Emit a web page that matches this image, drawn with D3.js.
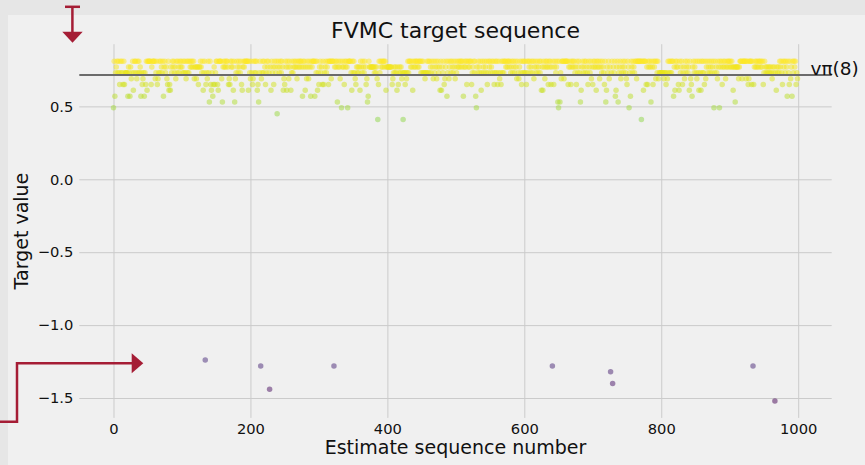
<!DOCTYPE html>
<html>
<head>
<meta charset="utf-8">
<script src="https://cdn.jsdelivr.net/npm/d3@7"></script>
<style>
  body { margin: 0; background: #e6e6e6; }
  svg { display: block; font-family: "DejaVu Sans", sans-serif; }
</style>
</head>
<body>
<svg id="chart" width="865" height="465"></svg>
<script>
// ---- data ----
const chartTitle = "FVMC target sequence";
const xLabel = "Estimate sequence number";
const yLabel = "Target value";
const xTicks = [0, 200, 400, 600, 800, 1000];
const yTicks = [-1.5, -1.0, -0.5, 0.0, 0.5];
const vPiValue = 0.715;
const vPiLabel = "vπ(8)";

// FVMC target for each estimate, in sequence order (index 0..999)
const targets = [
  .49,.81,.57,.73,.77,.81,.73,.81,.73,.65, .81,.73,.81,.73,.65,.81,.65,.73,.73,.73,
  .73,.57,.77,.73,.57,.77,.69,.73,.81,.61, .73,.81,.81,.73,.69,.81,.73,.81,.73,.77,
  .57,.73,.65,.69,.73,.57,.73,.65,.81,.61, .81,.81,.81,.81,.81,.65,.77,.81,.81,.81,
  .81,.69,.73,.81,.65,.69,.73,.81,.73,.81, .77,.73,.81,.57,.77,.81,.73,.77,.69,.65,
  .81,.61,.65,.61,.77,.73,.81,.77,.81,.73, .77,.69,.81,.73,.81,.77,.73,.81,.77,.81,
  .77,.73,.81,.73,.81,.73,.69,.81,.73,.81, .73,.81,.77,.81,.77,.81,.77,.81,.69,.77,
  .77,.69,.77,.77,.65,.77,.77,.81,.77,.73, .81,.61,.73,.81,-1.24,.65,.73,.69,.81,.73,
  .53,.81,.65,.61,.73,.57,.65,.77,.65,.73, .81,.81,.65,.61,.81,.81,.81,.81,.69,.53,
  .77,.81,.77,.81,.77,.81,.81,.77,.65,.69, .65,.81,.77,.81,.77,.61,.81,.53,.69,.73,
  .81,.77,.73,.81,.77,.73,.81,.65,.61,.77, .81,.77,.81,.81,.81,.81,.81,.61,.81,.73,
  .69,.81,.73,.65,.69,.81,.73,.81,.73,.81, .61,.65,.53,.73,.81,-1.28,.69,.73,.81,.73,
  .81,.77,.65,.73,.81,.77,.81,.73,-1.44,.77, .61,.81,.73,.77,.65,.81,.77,.73,.81,.45,
  .77,.81,.73,.77,.81,.73,.81,.77,.61,.69, .65,.81,.77,.61,.81,.77,.69,.81,.77,.61,
  .73,.81,.73,.77,.81,.77,.81,.77,.69,.81, .77,.81,.77,.81,.81,.77,.57,.81,.77,.81,
  .61,.77,.69,.81,.77,.69,.81,.77,.57,.81, .77,.81,.81,.81,.57,.81,.73,.81,.61,.73,
  .65,.77,.81,.73,.77,.65,.81,.65,.73,.77, .81,.73,.77,.81,.65,.81,.81,.81,.69,.81,
  .81,.81,-1.28,.77,.81,.77,.81,.53,.77,.81, .77,.69,.81,.49,.77,.81,.77,.65,.81,.77,
  .81,.77,.49,.81,.81,.81,.81,.73,.61,.81, .73,.81,.73,.69,.65,.77,.73,.77,.73,.77,
  .61,.81,.77,.73,.81,.77,.73,.81,.77,.65, .69,.53,.57,.81,.77,.77,.77,.77,.77,.77,
  .77,.73,.77,.73,.77,.69,.41,.65,.81,.73, .81,.77,.81,.77,.81,.81,.77,.81,.61,.77,
  .77,.77,.77,.77,.77,.77,.77,.65,.69,.73, .77,.73,.77,.73,.61,.77,.65,.73,.77,.73,
  .77,.69,.73,.41,.73,.73,.65,.73,.69,.73, .81,.73,.81,.81,.77,.81,.77,.61,.81,.77,
  .81,.77,.81,.81,.77,.81,.77,.81,.81,.73, .81,.73,.81,.73,.73,.69,.73,.73,.81,.73,
  .81,.73,.81,.77,.73,.81,.77,.69,.81,.73, .77,.81,.69,.77,.81,.73,.77,.61,.81,.61,
  .77,.73,.81,.65,.69,.77,.81,.57,.73,.81, .69,.77,.81,.73,.81,.77,.73,.81,.77,.69,
  .81,.73,.77,.81,.77,.81,.77,.81,.81,.77, .81,.57,.77,.81,.77,.81,.65,.81,.77,.81,
  .77,.81,.81,.65,.73,.77,.81,.73,.81,.57, .49,.77,.73,.81,.77,.73,.81,.61,.73,.81,
  .77,.73,.81,.77,.73,.81,.65,.73,.81,.77, .81,.73,.77,.81,.73,.81,.65,.73,.81,.73,
  .81,.65,.73,.81,.69,.73,.65,.81,.73,.81, .73,.81,.81,.77,.81,.77,.81,.81,.77,.81,
  .73,.77,.81,.73,.81,.77,.73,.81,.77,.69, .81,.73,.69,.77,.81,.73,.65,.81,.73,.81,
  .73,.81,.73,.65,.81,.73,.81,.77,.81,.73, .77,.81,.73,.81,.69,.77,.81,.73,.77,.81,
  .73,.77,.81,.73,.81,.61,.77,.61,.81,.77, .69,.81,.77,.81,.77,.65,.81,.77,.81,.65,
  .77,-1.28,.81,.65,.77,.81,.73,.77,.81,.53, .49,.81,.53,.73,.69,.81,.81,.81,.69,.81,
  .81,.81,.81,.81,.65,.77,.81,.77,.65,.81, .77,.81,.77,.81,.73,.77,.65,.81,.73,.77,
  .81,.73,.53,.61,.77,.81,.73,.77,.81,.73, .81,.77,.73,.65,.81,.77,.73,.81,.69,.77,
  .65,.81,.77,.81,.77,.61,.81,.77,.81,.77, .69,.81,.77,.73,.81,.77,.73,.65,.81,.53,
  .61,.77,.73,.81,.69,.77,-1.32,.73,.81,-1.40, .77,.73,.81,.57,.61,.77,.81,.53,.73,.77,
  .81,.69,.73,.77,.81,.73,.77,.81,.73,.69, .65,.81,.77,.49,.73,.57,.81,.77,.73,.81,
  .77,.73,.81,.81,.69,.81,.81,.81,.81,.81, .81,.41,.81,.81,.61,.81,.81,.81,.65,.77,
  .65,.81,.77,.81,.77,.53,.81,.77,.65,.81, .77,.81,.69,.81,.73,.81,.69,.73,.73,.73,
  .73,.73,.73,.73,.69,.73,.73,.65,.73,.69, .81,.73,.81,.73,.81,.73,.81,.81,.57,.77,
  .61,.81,.77,.81,.77,.65,.61,.81,.73,.77, .81,.65,.73,.77,.69,.81,.73,.77,.81,.73,
  .77,.61,.81,.69,.65,.57,.77,.81,.73,.77, .81,.73,.69,.81,.73,.61,.81,.73,.61,.81,
  .73,.81,.73,.65,.81,.69,.77,.81,.73,.77, .81,.73,.77,.81,.73,.77,.81,.49,.73,.81,
  .77,.73,.69,.81,.77,.49,.81,.77,.81,.65, .77,.81,.77,.81,.69,.77,.81,.77,.81,.81,
  .77,.81,.77,.81,.77,.61,.77,.77,.53,.77, .77,.77,.77,.69,.77,.81,.81,.81,.69,.81,
  .81,.81,.81,.81,.69,.81,.81,.65,.69,.81, .81,.81,.65,.81,-1.28,.65,.77,.81,.77,.81,
  .77,.81,.77,.81,.81,.77,.81,.77,.81,.65, .73,.81,.77,.73,.77,.73,.77,.73,.77,.73,
  .77,.73,.69,.77,.73,.77,-1.52,.73,.61,.77, .73,.77,.73,.81,.77,.81,.73,.65,.81,.77,
  .81,.73,.81,.77,.57,.81,.73,.65,.81,.69, .77,.57,.81,.73,.81,.77,.81,.65,.73,.69
];

// ---- layout ----
const svg = d3.select("#chart");
const W = 865, H = 465;
const plot = { left: 79.3, right: 831.7, top: 44.2, bottom: 417.9 };
const accent = "#a51d35";
const ink = "#111";

// figure background panel (outer frame shows on left and top)
svg.append("rect").attr("x", 8).attr("y", 15).attr("width", W - 8).attr("height", H - 15)
  .attr("fill", "#f0f0f0");

// scales with 5% data margins
const idx = targets.map((_, i) => i);
const xMin = 0, xMax = targets.length - 1;
const xPad = (xMax - xMin) * 0.05;
const x = d3.scaleLinear().domain([xMin - xPad, xMax + xPad]).range([plot.left, plot.right]);
const yLo = d3.min(targets), yHi = d3.max(targets);
const yPad = (yHi - yLo) * 0.05;
const y = d3.scaleLinear().domain([yLo - yPad, yHi + yPad]).range([plot.bottom, plot.top]);
const color = d3.scaleSequential(d3.interpolateViridis).domain([yLo, yHi]);

// grid + tick labels
const xAxis = d3.axisBottom(x).tickValues(xTicks).tickFormat(d3.format("d"))
  .tickSize(-(plot.bottom - plot.top)).tickPadding(5.7);
const yAxis = d3.axisLeft(y).tickValues(yTicks).tickFormat(d3.format(".1f"))
  .tickSize(-(plot.right - plot.left)).tickPadding(6);

const gx = svg.append("g").attr("transform", `translate(0,${plot.bottom})`).call(xAxis);
const gy = svg.append("g").attr("transform", `translate(${plot.left},0)`).call(yAxis);
[gx, gy].forEach(g => {
  g.select(".domain").remove();
  g.selectAll(".tick line").attr("stroke", "#cbcbcb").attr("stroke-width", 1);
  g.selectAll(".tick text").attr("fill", ink).attr("font-size", 14.7)
    .attr("font-family", "DejaVu Sans, sans-serif");
});

// scatter of targets
svg.append("g").selectAll("circle").data(idx).join("circle")
  .attr("cx", i => x(i))
  .attr("cy", i => y(targets[i]))
  .attr("r", 2.75)
  .attr("fill", i => color(targets[i]))
  .attr("fill-opacity", 0.5);

// reference value line
svg.append("line")
  .attr("x1", plot.left).attr("x2", plot.right)
  .attr("y1", y(vPiValue)).attr("y2", y(vPiValue))
  .attr("stroke", "#6b6b6b").attr("stroke-width", 2);
svg.append("text").attr("x", x(1018)).attr("y", y(vPiValue))
  .attr("font-size", 18.5).attr("fill", ink).text(vPiLabel);

// title and axis labels
svg.append("text").attr("x", (plot.left + plot.right) / 2).attr("y", 38.3)
  .attr("text-anchor", "middle").attr("font-size", 22).attr("fill", ink).text(chartTitle);
svg.append("text").attr("x", (plot.left + plot.right) / 2).attr("y", 454)
  .attr("text-anchor", "middle").attr("font-size", 19).attr("fill", ink).text(xLabel);
svg.append("text")
  .attr("transform", `translate(28,${(plot.top + plot.bottom) / 2}) rotate(-90)`)
  .attr("text-anchor", "middle").attr("font-size", 19).attr("fill", ink).text(yLabel);

// pointer arrows
const arrows = svg.append("g").attr("stroke", accent).attr("fill", "none").attr("stroke-width", 2.5);
arrows.append("line").attr("x1", 65).attr("x2", 80).attr("y1", 6.8).attr("y2", 6.8);
arrows.append("line").attr("x1", 72.4).attr("x2", 72.4).attr("y1", 6.8).attr("y2", 33);
svg.append("path").attr("d", "M62.3,31.7 L82.7,31.7 L72.5,42.7 Z").attr("fill", accent);
arrows.append("path").attr("d", "M0,421.7 L17,421.7 L17,363.3 L133,363.3");
svg.append("path").attr("d", "M131.7,353.3 L131.7,373.3 L143.3,363.3 Z").attr("fill", accent);
</script>
</body>
</html>
